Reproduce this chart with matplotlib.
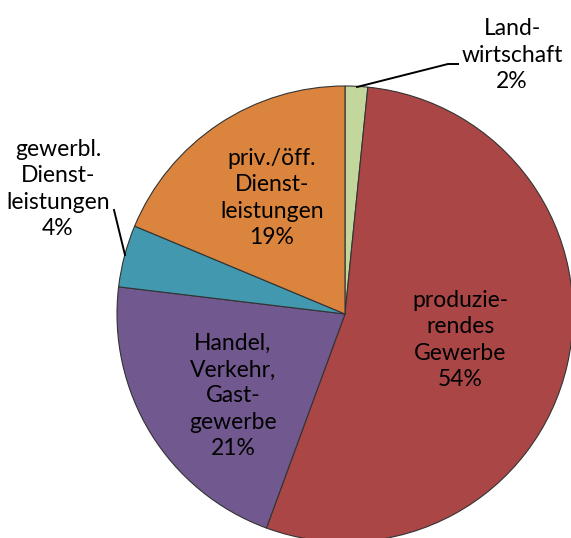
import matplotlib
matplotlib.use("Agg")
import matplotlib.pyplot as plt

# shares in percent, clockwise from 12 o'clock
sectors = ["Landwirtschaft", "produzierendes Gewerbe", "Handel, Verkehr, Gastgewerbe",
           "gewerbl. Dienstleistungen", "priv./öff. Dienstleistungen"]
shares = [1.6, 54.0, 21.3, 4.4, 18.7]
labels = ["Land-\nwirtschaft\n2%", "produzie-\nrendes\nGewerbe\n54%",
          "Handel,\nVerkehr,\nGast-\ngewerbe\n21%", "gewerbl.\nDienst-\nleistungen\n4%",
          "priv./öff.\nDienst-\nleistungen\n19%"]
colors = ["#C3D69B", "#AA4746", "#71588F", "#4198AF", "#DB843D"]

plt.rcParams['font.family'] = ['Lato', 'DejaVu Sans']

W, H = 571, 538
fig = plt.figure(figsize=(W / 100, H / 100), dpi=100)
ax = fig.add_axes([0, 0, 1, 1])

# pixel-like coordinates, y measured from the bottom
cx, cy, r = 345, H - 314, 228
ax.pie(shares, colors=colors, startangle=90, counterclock=False,
       center=(cx, cy), radius=r,
       wedgeprops=dict(edgecolor="#333333", linewidth=0.8))
ax.set_xlim(0, W)
ax.set_ylim(0, H)
ax.set_aspect("equal")
ax.axis("off")

fs = 16.5
ls = 1.3
# label positions (pixels from top-left)
pos = [(512, 55), (460, 340), (233, 396), (58, 189), (272, 198)]
for lab, (px, py) in zip(labels, pos):
    ax.text(px, H - py, lab, ha="center", va="center", fontsize=fs,
            linespacing=ls, color="black")

# leader lines
ax.plot([357, 448, 458], [H - 87, H - 64, H - 64], color="black", lw=1.4)
ax.plot([125, 114], [H - 255, H - 210], color="black", lw=1.4)

fig.savefig("out.png", dpi=100)
